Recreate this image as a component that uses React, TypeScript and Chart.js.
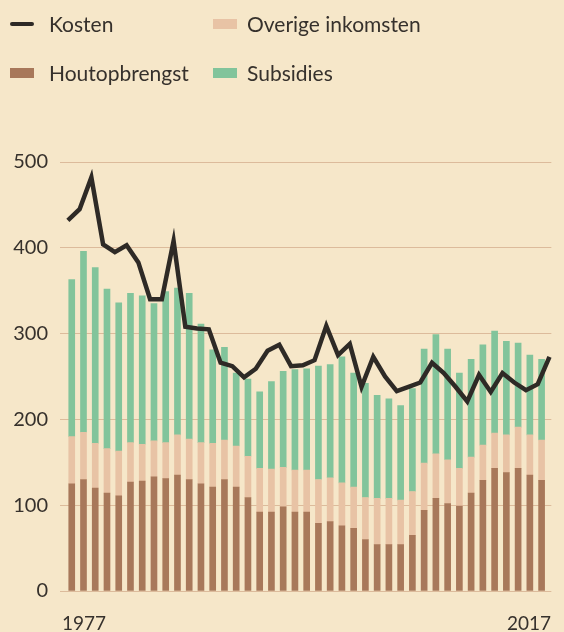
import React, { useEffect, useRef } from 'react';
import { Chart, registerables } from 'chart.js';

Chart.register(...registerables);

// ---- data ----
const years: number[] = [];
for (let y = 1977; y <= 2017; y++) years.push(y);

const houtopbrengst = [125,130,120,114,111,127,128,133,131,135,130,125,121,130,121,109,92,92,98,92,92,79,81,76,73,60,54,54,54,65,94,108,102,99,114,129,143,138,143,135,129];
const overigeInkomsten = [55,55,52,52,52,46,43,42,42,47,47,48,51,46,48,48,51,50,46,49,49,51,51,50,48,49,54,54,52,51,55,52,51,44,42,41,41,44,48,47,47];
const subsidies = [183,211,205,186,173,174,173,160,176,171,170,138,109,108,85,90,89,102,112,117,118,132,132,147,133,133,120,116,110,120,133,139,129,111,114,117,119,109,98,93,94];
const kosten = [432,445,482,404,395,403,383,340,340,408,308,306,305,266,262,249,259,280,287,262,263,269,309,275,288,238,273,250,233,238,243,266,254,238,221,252,232,254,243,234,241,273];

const yTicks = [0, 100, 200, 300, 400, 500];
const xTickYears = [1977, 2017];
const xTickLabels = ['1977', '2017'];

// ---- styles ----
const BG = '#f6e7c9';
const TEXT = '#36312c';
const BROWN = '#a8785a';
const PINK = '#e8c3a5';
const GREEN = '#82c49b';
const LINE = '#2e2a26';
const GRID = '#dcbb9b';
const FONT = 'Lato, "Noto Sans", sans-serif';
const LINE_SHIFT = 0.33;
const X_LABEL_NUDGE = [-0.83, 0.8]; // label placement nudge (in years)

const legendItems = [
  { label: 'Kosten', color: LINE, kind: 'line', col: 0, row: 0 },
  { label: 'Overige inkomsten', color: PINK, kind: 'box', col: 1, row: 0 },
  { label: 'Houtopbrengst', color: BROWN, kind: 'box', col: 0, row: 1 },
  { label: 'Subsidies', color: GREEN, kind: 'box', col: 1, row: 1 },
];
const colLeft = [10, 213];
const textLeft = [49, 247];
const rowCenter = [24, 73];

export default function App() {
  const ref = useRef<HTMLCanvasElement | null>(null);

  useEffect(() => {
    document.body.style.margin = '0';
    document.body.style.background = BG;
    const canvas = ref.current;
    if (!canvas) return;
    const chart = new Chart(canvas, {
      type: 'bar',
      data: {
        datasets: [
          {
            type: 'line',
            label: 'Kosten',
            data: kosten.map((v, i) => ({ x: years[0] + i - LINE_SHIFT, y: v })),
            borderColor: LINE,
            borderWidth: 4.5,
            pointRadius: 0,
            tension: 0,
            borderJoinStyle: 'miter',
            stack: 'kosten',
            order: 0,
            clip: false,
          } as any,
          {
            label: 'Houtopbrengst',
            data: years.map((yr, i) => ({ x: yr, y: houtopbrengst[i] })),
            backgroundColor: BROWN,
            stack: 'inkomsten',
            barThickness: 6,
            order: 1,
          },
          {
            label: 'Overige inkomsten',
            data: years.map((yr, i) => ({ x: yr, y: overigeInkomsten[i] })),
            backgroundColor: PINK,
            stack: 'inkomsten',
            barThickness: 6,
            order: 1,
          },
          {
            label: 'Subsidies',
            data: years.map((yr, i) => ({ x: yr, y: subsidies[i] })),
            backgroundColor: GREEN,
            stack: 'inkomsten',
            barThickness: 6,
            order: 1,
          },
        ],
      },
      options: {
        animation: false,
        responsive: false,
        maintainAspectRatio: false,
        layout: { padding: { top: 162, left: 0, right: 0, bottom: 0 } },
        plugins: { legend: { display: false }, tooltip: { enabled: false } },
        scales: {
          x: {
            type: 'linear',
            min: 1976,
            max: 2017.83,
            offset: false,
            grid: { display: false },
            border: { display: false },
            afterBuildTicks: (s: any) => {
              s.ticks = xTickYears.map((v, i) => ({ value: v + X_LABEL_NUDGE[i] }));
            },
            afterFit: (s: any) => {
              s.height = 41;
            },
            ticks: {
              align: 'inner',
              padding: 13,
              labelOffset: 0,
              autoSkip: false,
              maxRotation: 0,
              color: TEXT,
              font: { family: FONT, size: 19 },
              callback: (_v: any, i: number) => xTickLabels[i],
            },
          },
          y: {
            min: 0,
            max: 500,
            stacked: true,
            afterBuildTicks: (s: any) => {
              s.ticks = yTicks.map((v) => ({ value: v }));
            },
            afterFit: (s: any) => {
              s.width = 60;
            },
            grid: { color: GRID, drawTicks: false, lineWidth: 1 },
            border: { display: false },
            ticks: {
              padding: 12,
              color: TEXT,
              font: { family: FONT, size: 20 },
            },
          },
        },
      } as any,
    });
    return () => chart.destroy();
  }, []);

  return (
    <div style={{ position: 'relative', width: 564, height: 632, background: BG, overflow: 'hidden', fontFamily: FONT }}>
      <canvas ref={ref} width={564} height={632} style={{ position: 'absolute', left: 0, top: 0, width: 564, height: 632 }} />
      {legendItems.map((it) => (
        <div key={it.label}>
          <div
            style={{
              position: 'absolute',
              left: colLeft[it.col],
              top: rowCenter[it.row] - (it.kind === 'line' ? 2 : 5),
              width: 24,
              height: it.kind === 'line' ? 4 : 10,
              background: it.color,
              borderRadius: it.kind === 'line' ? 2 : 0,
            }}
          />
          <div
            style={{
              position: 'absolute',
              left: textLeft[it.col],
              top: rowCenter[it.row] - 13,
              fontSize: 21,
              lineHeight: '26px',
              color: TEXT,
              whiteSpace: 'nowrap',
            }}
          >
            {it.label}
          </div>
        </div>
      ))}
    </div>
  );
}
